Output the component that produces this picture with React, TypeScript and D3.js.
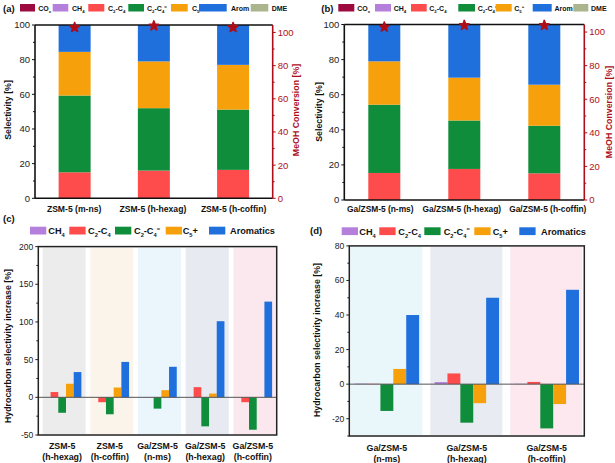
import React from "react";
import * as d3 from "d3";

const FONT = "'Liberation Sans', Arial, Helvetica, sans-serif";

// ---------- Data: panel (a) ----------
const catsA = ["ZSM-5 (m-ns)", "ZSM-5 (h-hexag)", "ZSM-5 (h-coffin)"];
const coxA = [0, 0, 0];
const ch4A = [0, 0, 0];
const c2c4A = [15, 16, 16.4];
const c2c4eA = [44.3, 36, 34.8];
const c5pA = [25.2, 27, 25.8];
const aromA = [15.5, 21, 23];
const dmeA = [0, 0, 0];
const convA = [103, 104, 103];

// ---------- Data: panel (b) ----------
const catsB = ["Ga/ZSM-5 (n-ms)", "Ga/ZSM-5 (h-hexag)", "Ga/ZSM-5 (h-coffin)"];
const coxB = [0, 0, 0];
const ch4B = [0, 0, 0];
const c2c4B = [15.4, 17.7, 15.2];
const c2c4eB = [38.9, 27.6, 27.1];
const c5pB = [24.7, 24.4, 23.4];
const aromB = [21, 30.3, 34.3];
const dmeB = [0, 0, 0];
const convB = [103, 104, 104];

// ---------- Data: panel (c) ----------
const catsC = [
  "ZSM-5|(h-hexag)",
  "ZSM-5|(h-coffin)",
  "Ga/ZSM-5|(n-ms)",
  "Ga/ZSM-5|(h-hexag)",
  "Ga/ZSM-5|(h-coffin)",
];
const ch4C = [0, 0, 0, 0, 0];
const c2c4C = [7, -6.5, 0.3, 13.5, -6.5];
const c2c4eC = [-20.5, -22.5, -15, -38.5, -43];
const c5pC = [18, 13, 9.5, 5, 0];
const aromC = [33.5, 47, 40.5, 101, 127];

// ---------- Data: panel (d) ----------
const catsD = ["Ga/ZSM-5|(n-ms)", "Ga/ZSM-5|(h-hexag)", "Ga/ZSM-5|(h-coffin)"];
const ch4D = [0.3, 1.2, 0.2];
const c2c4D = [0.2, 6.2, 1.3];
const c2c4eD = [-15.5, -22.3, -25.6];
const c5pD = [8.8, -11, -11.5];
const aromD = [40, 50, 54.6];

// ---------- Styles ----------
const stackKeys = ["COx", "CH4", "C2C4", "C2C4e", "C5p", "Arom", "DME"];
const diffKeys = ["CH4", "C2C4", "C2C4e", "C5p", "Arom"];
const COLORS: Record<string, string> = {
  COx: "#9c0a3f",
  CH4: "#b580dc",
  C2C4: "#fe4b4b",
  C2C4e: "#0f8d3b",
  C5p: "#f6a10b",
  Arom: "#1f6fdd",
  DME: "#abb58d",
};
const CONV_COLOR = "#ad0e1a";
const bandColorsC = ["#ececec", "#fbf4ea", "#eaf6fb", "#e8eaf2", "#fbe8ee"];
const bandColorsD = ["#e9f6fa", "#e9ebf2", "#fce8ee"];

type Part = [string, "n" | "sub" | "sup"];
const topLabels: Record<string, Part[]> = {
  COx: [["CO", "n"], ["x", "sub"]],
  CH4: [["CH", "n"], ["4", "sub"]],
  C2C4: [["C", "n"], ["2", "sub"], ["-C", "n"], ["4", "sub"]],
  C2C4e: [["C", "n"], ["2", "sub"], ["-C", "n"], ["4", "sub"], ["=", "sup"]],
  C5p: [["C", "n"], ["5", "sub"], ["+", "sup"]],
  Arom: [["Arom", "n"]],
  DME: [["DME", "n"]],
};
const bottomLabels: Record<string, Part[]> = {
  CH4: [["CH", "n"], ["4", "sub"]],
  C2C4: [["C", "n"], ["2", "sub"], ["-C", "n"], ["4", "sub"]],
  C2C4e: [["C", "n"], ["2", "sub"], ["-C", "n"], ["4", "sub"], ["=", "sup"]],
  C5p: [["C", "n"], ["5", "sub"], ["+", "n"]],
  Arom: [["Aromatics", "n"]],
};

function RichText({ parts, x, y, size, fill = "#111" }: { parts: Part[]; x: number; y: number; size: number; fill?: string }) {
  let cur = 0;
  const spans = parts.map(([t, kind], i) => {
    let target = 0;
    let fs = size;
    if (kind === "sub") { target = size * 0.3; fs = size * 0.62; }
    if (kind === "sup") { target = -size * 0.4; fs = size * 0.62; }
    const dy = target - cur;
    cur = target;
    return (
      <tspan key={i} dy={dy} fontSize={fs}>{t}</tspan>
    );
  });
  return (
    <text x={x} y={y} fontFamily={FONT} fontWeight="bold" fontSize={size} fill={fill}>
      {spans}
    </text>
  );
}

function makeRows(cats: string[], cols: Record<string, number[]>) {
  return cats.map((c, i) => {
    const r: any = { cat: c };
    Object.keys(cols).forEach((k) => (r[k] = cols[k][i]));
    return r;
  });
}

type StackProps = {
  tag: string;
  cats: string[];
  cols: Record<string, number[]>;
  conv: number[];
  left: number; right: number; top: number; bottom: number;
  leftTitleX: number; rightTitleX: number; titleY: number;
  legendX: number[]; legendLabelX: number[]; legendW: number[];
  labelDx: number[]; labelSize: number;
};

function StackPanel(p: StackProps) {
  const x = d3.scalePoint<string>().domain(p.cats).range([p.left, p.right]).padding(0.5);
  const y = d3.scaleLinear().domain([0, 100]).range([p.bottom, p.top]);
  const y2 = d3.scaleLinear().domain([0, 104.5]).range([p.bottom, p.top]);
  const rows = makeRows(p.cats, p.cols);
  const series = d3.stack<any>().keys(stackKeys)(rows);
  const bw = 32;
  const major = d3.range(0, 101, 20);
  const minor = d3.range(10, 100, 20);
  const star = d3.symbol().type(d3.symbolStar).size(26)();
  return (
    <g>
      <text x={p.legendX[0] - 17} y={12} fontFamily={FONT} fontWeight="bold" fontSize={9.5} fill="#111">{p.tag}</text>
      {stackKeys.map((k, i) => (
        <g key={k}>
          <rect x={p.legendX[i]} y={4} width={p.legendW[i]} height={7.5} fill={COLORS[k]} />
          <RichText parts={topLabels[k]} x={p.legendLabelX[i]} y={10.8} size={7} />
        </g>
      ))}
      {series.map((s) => (
        <g key={s.key} fill={COLORS[s.key]}>
          {s.map((d, i) => (
            d[1] - d[0] > 0 ? (
              <rect key={i} x={(x(p.cats[i]) as number) - bw / 2} y={y(d[1])} width={bw} height={y(d[0]) - y(d[1])} />
            ) : null
          ))}
        </g>
      ))}
      {/* frame */}
      <line x1={p.left} x2={p.right} y1={p.top} y2={p.top} stroke="#111" strokeWidth={1.6} />
      <line x1={p.left} x2={p.right} y1={p.bottom} y2={p.bottom} stroke="#111" strokeWidth={1.6} />
      <line x1={p.left} x2={p.left} y1={p.top} y2={p.bottom} stroke="#111" strokeWidth={1.6} />
      <line x1={p.right} x2={p.right} y1={p.top} y2={p.bottom} stroke={CONV_COLOR} strokeWidth={1.6} />
      {major.map((t) => (
        <g key={"m" + t}>
          <line x1={p.left - 3} x2={p.left} y1={y(t)} y2={y(t)} stroke="#111" strokeWidth={1} />
          <text x={p.left - 5} y={y(t) + 3.4} textAnchor="end" fontFamily={FONT} fontSize={9.5} fill="#222">{t}</text>
        </g>
      ))}
      {minor.map((t) => (
        <line key={"n" + t} x1={p.left - 2} x2={p.left} y1={y(t)} y2={y(t)} stroke="#111" strokeWidth={1} />
      ))}
      {major.map((t) => (
        <g key={"r" + t}>
          <line x1={p.right} x2={p.right + 3} y1={y2(t)} y2={y2(t)} stroke={CONV_COLOR} strokeWidth={1} />
          <text x={p.right + 5} y={y2(t) + 3.4} fontFamily={FONT} fontSize={9.5} fill={CONV_COLOR}>{t}</text>
        </g>
      ))}
      {minor.map((t) => (
        <line key={"rn" + t} x1={p.right} x2={p.right + 2} y1={y2(t)} y2={y2(t)} stroke={CONV_COLOR} strokeWidth={1} />
      ))}
      {p.conv.map((v, i) => (
        <path key={i} d={star as string} transform={`translate(${x(p.cats[i])},${y2(v)})`} fill={CONV_COLOR} stroke={CONV_COLOR} strokeWidth={1.8} strokeLinejoin="round" />
      ))}
      {p.cats.map((c, i) => (
        <text key={c} x={(x(c) as number) + p.labelDx[i]} y={211.5} textAnchor="middle" fontFamily={FONT} fontWeight="bold" fontSize={p.labelSize} fill="#111">{c}</text>
      ))}
      <text transform={`translate(${p.leftTitleX},${p.titleY}) rotate(-90)`} textAnchor="middle" fontFamily={FONT} fontWeight="bold" fontSize={8.8} fill="#111">Selectivity [%]</text>
      <text transform={`translate(${p.rightTitleX},${p.titleY}) rotate(-90)`} textAnchor="middle" fontFamily={FONT} fontWeight="bold" fontSize={8.8} fill={CONV_COLOR}>MeOH Conversion [%]</text>
    </g>
  );
}

type DiffProps = {
  tag: string; tagY: number; tagX: number;
  cats: string[];
  cols: Record<string, number[]>;
  left: number; right: number; top: number; bottom: number;
  domain: [number, number];
  major: number[]; minor: number[];
  groupW: number; pad: number;
  bands: string[]; bandW: number; bandOff: number;
  titleX: number; titleY: number;
  legendX: number[]; legendLabelX: number[]; legendY: number;
  labelY: [number, number];
  tickSize: number;
};

function DiffPanel(p: DiffProps) {
  const x = d3.scalePoint<string>().domain(p.cats).range([p.left, p.right]).padding(p.pad);
  const inner = d3.scaleBand<string>().domain(diffKeys).range([-p.groupW / 2, p.groupW / 2]);
  const y = d3.scaleLinear().domain(p.domain).range([p.bottom, p.top]);
  return (
    <g>
      <text x={p.tagX} y={p.tagY} fontFamily={FONT} fontWeight="bold" fontSize={9.5} fill="#111">{p.tag}</text>
      {diffKeys.map((k, i) => (
        <g key={k}>
          <rect x={p.legendX[i]} y={p.legendY} width={16.3} height={7.8} fill={COLORS[k]} />
          <RichText parts={bottomLabels[k]} x={p.legendLabelX[i]} y={p.legendY + 7.5} size={9.2} />
        </g>
      ))}
      {p.cats.map((c, i) => {
        const cx = x(c) as number;
        const x0 = Math.max(p.left + 0.8, cx + p.bandOff - p.bandW / 2);
        const x1 = Math.min(p.right - 0.8, cx + p.bandOff + p.bandW / 2);
        return <rect key={c} x={x0} y={p.top + 1} width={x1 - x0} height={p.bottom - p.top - 2} fill={p.bands[i]} />;
      })}
      {diffKeys.map((k) => (
        <g key={k} fill={COLORS[k]}>
          {p.cols[k].map((v, i) => {
            const cx = x(p.cats[i]) as number;
            return (
              <rect key={i} x={cx + (inner(k) as number)} width={inner.bandwidth()} y={y(Math.max(0, v))} height={Math.abs(y(v) - y(0))} />
            );
          })}
        </g>
      ))}
      <line x1={p.left} x2={p.right} y1={y(0)} y2={y(0)} stroke="#555" strokeWidth={1} />
      <rect x={p.left} y={p.top} width={p.right - p.left} height={p.bottom - p.top} fill="none" stroke="#222" strokeWidth={1.5} />
      {p.major.map((t) => (
        <g key={"m" + t}>
          <line x1={p.left - 3} x2={p.left} y1={y(t)} y2={y(t)} stroke="#222" strokeWidth={1} />
          <text x={p.left - 5} y={y(t) + 3} textAnchor="end" fontFamily={FONT} fontSize={p.tickSize} fill="#222">{t}</text>
        </g>
      ))}
      {p.minor.map((t) => (
        <line key={"n" + t} x1={p.left - 2} x2={p.left} y1={y(t)} y2={y(t)} stroke="#222" strokeWidth={1} />
      ))}
      {p.cats.map((c) => {
        const [l1, l2] = c.split("|");
        return (
          <g key={c}>
            <text x={x(c)} y={p.labelY[0]} textAnchor="middle" fontFamily={FONT} fontWeight="bold" fontSize={8.8} fill="#111">{l1}</text>
            <text x={x(c)} y={p.labelY[1]} textAnchor="middle" fontFamily={FONT} fontWeight="bold" fontSize={8.8} fill="#111">{l2}</text>
          </g>
        );
      })}
      <text transform={`translate(${p.titleX},${p.titleY}) rotate(-90)`} textAnchor="middle" fontFamily={FONT} fontWeight="bold" fontSize={8.8} fill="#111">Hydrocarbon selectivity increase [%]</text>
    </g>
  );
}

export default function App() {
  return (
    <svg width={615} height={463} style={{ position: "absolute", left: 0, top: 0, background: "#fff" }}>
      <rect width={615} height={463} fill="#fff" />
      <StackPanel
        tag="(a)"
        cats={catsA}
        cols={{ COx: coxA, CH4: ch4A, C2C4: c2c4A, C2C4e: c2c4eA, C5p: c5pA, Arom: aromA, DME: dmeA }}
        conv={convA}
        left={35} right={272.7} top={25} bottom={198.3}
        leftTitleX={10.5} rightTitleX={299} titleY={110}
        legendX={[20, 52.7, 88.3, 128.3, 171, 199, 250.7]}
        legendLabelX={[38.3, 72, 108, 147, 192, 231, 271.7]}
        legendW={[15, 15.6, 16, 15.7, 16.7, 27.7, 17.6]}
        labelDx={[-0.5, -1, 0.5]} labelSize={8.6}
      />
      <StackPanel
        tag="(b)"
        cats={catsB}
        cols={{ COx: coxB, CH4: ch4B, C2C4: c2c4B, C2C4e: c2c4eB, C5p: c5pB, Arom: aromB, DME: dmeB }}
        conv={convB}
        left={344.3} right={584.3} top={24.5} bottom={200}
        leftTitleX={321.5} rightTitleX={612} titleY={112}
        legendX={[338.3, 375, 411, 458.3, 495.7, 532.7, 573.3]}
        legendLabelX={[357.3, 393.7, 429.3, 477.7, 514.3, 554.5, 591]}
        legendW={[16, 16, 15.7, 16.7, 16, 19, 15]}
        labelDx={[-4, -2.5, 3.5]} labelSize={8.4}
      />
      <DiffPanel
        tag="(c)" tagX={3} tagY={222}
        cats={catsC}
        cols={{ CH4: ch4C, C2C4: c2c4C, C2C4e: c2c4eC, C5p: c5pC, Arom: aromC }}
        left={38.3} right={276.7} top={246.6} bottom={435}
        domain={[-50, 200]}
        major={[-50, 0, 50, 100, 150, 200]}
        minor={[-25, 25, 75, 125, 175]}
        groupW={38.5} pad={0.5}
        bands={bandColorsC} bandW={43} bandOff={2}
        titleX={11} titleY={346}
        legendX={[30, 69.3, 115, 165.7, 209]}
        legendLabelX={[48.3, 88, 134, 182.7, 230]}
        legendY={226.7}
        labelY={[448.5, 460]}
        tickSize={8.6}
      />
      <DiffPanel
        tag="(d)" tagX={310} tagY={234}
        cats={catsD}
        cols={{ CH4: ch4D, C2C4: c2c4D, C2C4e: c2c4eD, C5p: c5pD, Arom: aromD }}
        left={349.3} right={584.3} top={245.9} bottom={436}
        domain={[-30, 80]}
        major={[-20, 0, 20, 40, 60, 80]}
        minor={[-30, -10, 10, 30, 50, 70]}
        groupW={64.5} pad={0.47}
        bands={bandColorsD} bandW={72} bandOff={-0.5}
        titleX={320} titleY={340}
        legendX={[341.7, 379.3, 424.3, 474.3, 519.3]}
        legendLabelX={[359.3, 398.3, 443.7, 492.7, 541]}
        legendY={227.3}
        labelY={[450.5, 461.5]}
        tickSize={8.6}
      />
    </svg>
  );
}
